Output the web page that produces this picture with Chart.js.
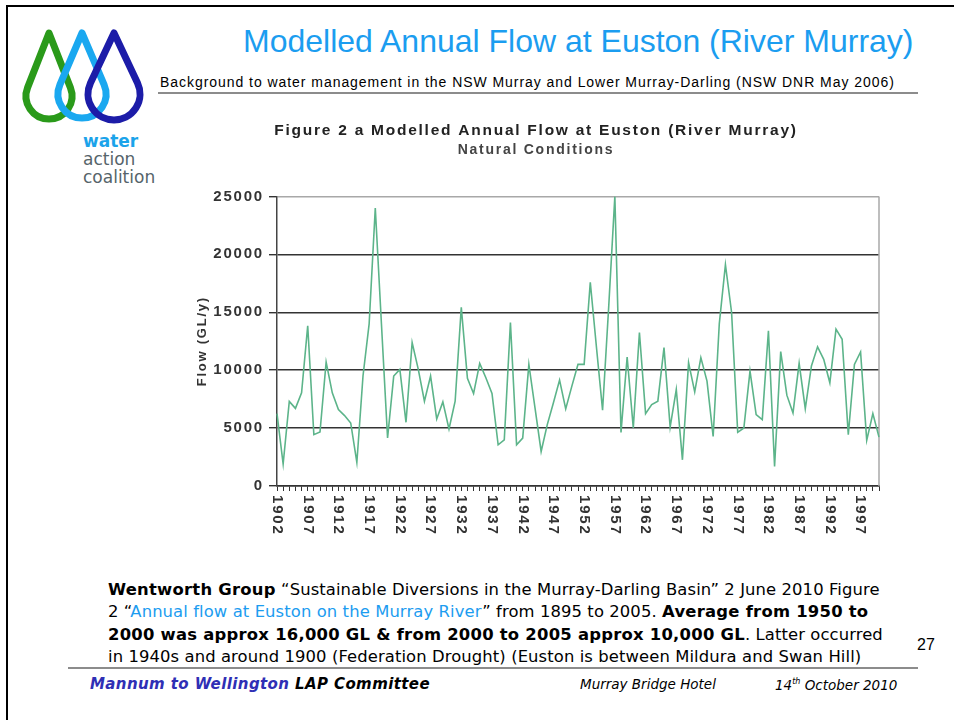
<!DOCTYPE html>
<html>
<head>
<meta charset="utf-8">
<script src="https://cdn.jsdelivr.net/npm/chart.js@4.4.0/dist/chart.umd.min.js"></script>
<style>
  body { margin: 0; background: #fff; }
  #page { position: relative; width: 954px; height: 720px; overflow: hidden; background: #fff;
          font-family: 'Liberation Sans', Arial, sans-serif; color: #000; }
  .frame { position: absolute; left: 6px; top: 5px; width: 1000px; height: 800px;
           border-left: 2.5px solid #000; border-top: 2.5px solid #000; }
  .t { position: absolute; white-space: nowrap; line-height: 1; }
  .rule { position: absolute; height: 2px; background: #8c8c8c; }
  #logo { position: absolute; left: 0; top: 0; }
  .logo-txt { position: absolute; left: 83px; font-family: 'DejaVu Sans', sans-serif; font-size: 17px; line-height: 1; color: #56646a; }
  #chartBox { position: absolute; left: 193px; top: 118px; width: 688px; height: 432px; }
  .para { font-family: 'DejaVu Sans', sans-serif; font-size: 16.4px; letter-spacing: 0.1px; }
  .para b { letter-spacing: 0.25px; }
  .foot { font-family: 'DejaVu Sans', sans-serif; font-style: italic; }
  .blue { color: #1c9cf0; }
</style>
</head>
<body>
<div id="page">
  <div class="frame"></div>

  <svg id="logo" width="170" height="130"></svg>
  <div class="logo-txt" style="top:133px;font-weight:bold;color:#1ba3ea;">water</div>
  <div class="logo-txt" style="top:151px;">action</div>
  <div class="logo-txt" style="top:169px;">coalition</div>

  <div class="t" style="left:243px;top:25px;font-size:32px;color:#1b9df0;">Modelled Annual Flow at Euston (River Murray)</div>
  <div class="t" style="left:160px;top:75px;font-size:14px;letter-spacing:0.95px;">Background to water management in the NSW Murray and Lower Murray-Darling (NSW DNR May 2006)</div>
  <div class="rule" style="left:158px;top:92px;width:760px;"></div>

  <div id="chartBox"><canvas id="flowChart"></canvas></div>

  <div class="t para" style="left:108px;top:582px;"><b>Wentworth Group</b> “Sustainable Diversions in the Murray-Darling Basin” 2 June 2010 Figure</div>
  <div class="t para" style="left:108px;top:604px;">2 “<span class="blue">Annual flow at Euston on the Murray River</span>” from 1895 to 2005. <b>Average from 1950 to</b></div>
  <div class="t para" style="left:108px;top:627px;"><b>2000 was approx 16,000 GL &amp; from 2000 to 2005 approx 10,000 GL</b>. Latter occurred</div>
  <div class="t para" style="left:108px;top:649px;">in 1940s and around 1900 (Federation Drought) (Euston is between Mildura and Swan Hill)</div>
  <div class="t" style="left:917px;top:637px;font-size:16px;">27</div>
  <div class="rule" style="left:68px;top:667px;width:850px;"></div>

  <div class="t foot" style="left:90px;top:677px;font-size:15px;font-weight:bold;letter-spacing:0.4px;"><span style="color:#2f2fb5;">Mannum to Wellington</span> LAP Committee</div>
  <div class="t foot" style="left:580px;top:678px;font-size:13.5px;">Murray Bridge Hotel</div>
  <div class="t foot" style="left:775px;top:678px;font-size:13.5px;">14<sup style="font-size:8px;">th</sup> October 2010</div>
</div>

<script>
// Modelled annual flow at Euston, natural conditions (GL/y)
const years = [
  1902, 1903, 1904, 1905, 1906, 1907, 1908, 1909, 1910, 1911,
  1912, 1913, 1914, 1915, 1916, 1917, 1918, 1919, 1920, 1921,
  1922, 1923, 1924, 1925, 1926, 1927, 1928, 1929, 1930, 1931,
  1932, 1933, 1934, 1935, 1936, 1937, 1938, 1939, 1940, 1941,
  1942, 1943, 1944, 1945, 1946, 1947, 1948, 1949, 1950, 1951,
  1952, 1953, 1954, 1955, 1956, 1957, 1958, 1959, 1960, 1961,
  1962, 1963, 1964, 1965, 1966, 1967, 1968, 1969, 1970, 1971,
  1972, 1973, 1974, 1975, 1976, 1977, 1978, 1979, 1980, 1981,
  1982, 1983, 1984, 1985, 1986, 1987, 1988, 1989, 1990, 1991,
  1992, 1993, 1994, 1995, 1996, 1997, 1998, 1999, 2000
];
const flow = [
  6250, 1900, 7300, 6700, 8050, 13830, 4430, 4660, 10700, 8040,
  6600, 6080, 5440, 2030, 9500, 14000, 24000, 14000, 4140, 9490,
  10070, 5500, 12380, 10070, 7320, 9490, 5790, 7260, 4920, 7320,
  15420, 9290, 7990, 10590, 9350, 7990, 3560, 3990, 14120, 3560,
  4140, 10500, 6740, 2980, 5300, 7180, 9140, 6660, 8620, 10500,
  10500, 17590, 12000, 6540, 15500, 25000, 4630, 11140, 5010, 13250,
  6250, 7030, 7320, 11950, 5090, 8330, 2260, 10650, 8130, 11080,
  9060, 4280, 14000, 19100, 15000, 4630, 5010, 9920, 6160, 5730,
  13400, 1680, 11600, 7840, 6310, 10590, 6680, 10360, 12010, 10940,
  8910, 13540, 12670, 4430, 10500, 11570, 3940, 6250, 4220
];
const labelEvery = 5;
const yMax = 25000;
const yStep = 5000;

// logo: three drops
function dropPath(cx, cy, r, tipY) {
  const d = cy - tipY;
  const a = Math.acos(r / d);
  const tx = r * Math.sin(a), ty = r * Math.cos(a);
  return `M${cx},${tipY} L${cx + tx},${cy - ty} A${r},${r} 0 1 1 ${cx - tx},${cy - ty} Z`;
}
const logo = document.getElementById('logo');
[
  [49, 96, 23, 33, '#2a9a1a'],
  [82, 94, 24, 33, '#1aa8f0'],
  [114, 94, 26, 33, '#1c1ca8']
].forEach(([cx, cy, r, tip, col]) => {
  const p = document.createElementNS('http://www.w3.org/2000/svg', 'path');
  p.setAttribute('d', dropPath(cx, cy, r, tip));
  p.setAttribute('fill', 'none');
  p.setAttribute('stroke', col);
  p.setAttribute('stroke-width', '7');
  p.setAttribute('stroke-linejoin', 'round');
  logo.appendChild(p);
});

const FONT = "'Liberation Sans', Arial, sans-serif";

// titles/axis title use one spacing, tick labels (drawn after datasets) another
const spacedText = {
  id: 'spacedText',
  beforeLayout(chart) { chart.ctx.letterSpacing = '1.75px'; },
  beforeDraw(chart) { chart.ctx.letterSpacing = '1.75px'; },
  afterDatasetsDraw(chart) { chart.ctx.letterSpacing = '1.8px'; }
};

const plotFrame = {
  id: 'plotFrame',
  beforeDatasetsDraw(chart) {
    const { ctx, chartArea: a } = chart;
    ctx.save();
    ctx.strokeStyle = '#a8a8a8';
    ctx.lineWidth = 1.5;
    ctx.beginPath();
    ctx.moveTo(a.right, a.top);
    ctx.lineTo(a.right, a.bottom);
    ctx.stroke();
    ctx.restore();
  }
};

// year labels read top-to-bottom, every fifth year
const yearLabels = {
  id: 'yearLabels',
  afterDraw(chart) {
    const { ctx, chartArea, scales: { x } } = chart;
    ctx.save();
    ctx.font = 'bold 15px ' + FONT;
    ctx.letterSpacing = '1.8px';
    ctx.fillStyle = '#333';
    ctx.textAlign = 'left';
    ctx.textBaseline = 'middle';
    years.forEach((yr, i) => {
      if ((yr - years[0]) % labelEvery) return;
      ctx.save();
      ctx.translate(x.getPixelForValue(i), chartArea.bottom + 9);
      ctx.rotate(Math.PI / 2);
      ctx.fillText(String(yr), 0, 0);
      ctx.restore();
    });
    ctx.restore();
  }
};

new Chart(document.getElementById('flowChart'), {
  type: 'line',
  data: {
    labels: years,
    datasets: [{
      label: 'Flow',
      data: flow,
      borderColor: '#5cb48a',
      borderWidth: 1.6,
      pointRadius: 0,
      tension: 0,
      fill: false
    }]
  },
  options: {
    responsive: true,
    maintainAspectRatio: false,
    animation: false,
    layout: { padding: { left: 0, right: 2, top: 0, bottom: 0 } },
    plugins: {
      legend: { display: false },
      tooltip: { enabled: false },
      title: {
        display: true,
        text: 'Figure 2 a Modelled Annual Flow at Euston (River Murray)',
        color: '#222',
        font: { family: FONT, size: 15.5, weight: 'bold', lineHeight: 1.2 },
        padding: { top: 3, bottom: 1 }
      },
      subtitle: {
        display: true,
        text: 'Natural Conditions',
        color: '#444',
        font: { family: FONT, size: 14, weight: 'bold', lineHeight: 1.2 },
        padding: { top: 1, bottom: 38 }
      }
    },
    scales: {
      x: {
        type: 'category',
        offset: false,
        grid: { drawOnChartArea: false, tickLength: 5, color: '#333', lineWidth: 1 },
        border: { display: true, color: '#333', width: 1.5 },
        ticks: { display: false, autoSkip: false },
        afterFit(s) { s.height = 64; }
      },
      y: {
        min: 0,
        max: yMax,
        grid: {
          color: c => (c.tick && c.tick.value === yMax ? '#a8a8a8' : '#333'),
          lineWidth: 1.4,
          tickLength: 8,
          tickColor: '#333'
        },
        border: { display: true, color: '#444', width: 1.5 },
        ticks: {
          stepSize: yStep,
          color: '#333',
          padding: 5,
          z: 1,
          font: { family: FONT, size: 15, weight: 'bold' },
          callback: v => String(v)
        },
        title: {
          display: true,
          text: 'Flow (GL/y)',
          color: '#333',
          font: { family: FONT, size: 13, weight: 'bold', lineHeight: 1.2 },
          padding: { top: 2, bottom: 0 }
        },
        afterFit(s) { s.width = 84; }
      }
    }
  },
  plugins: [spacedText, plotFrame, yearLabels]
});
</script>
</body>
</html>
